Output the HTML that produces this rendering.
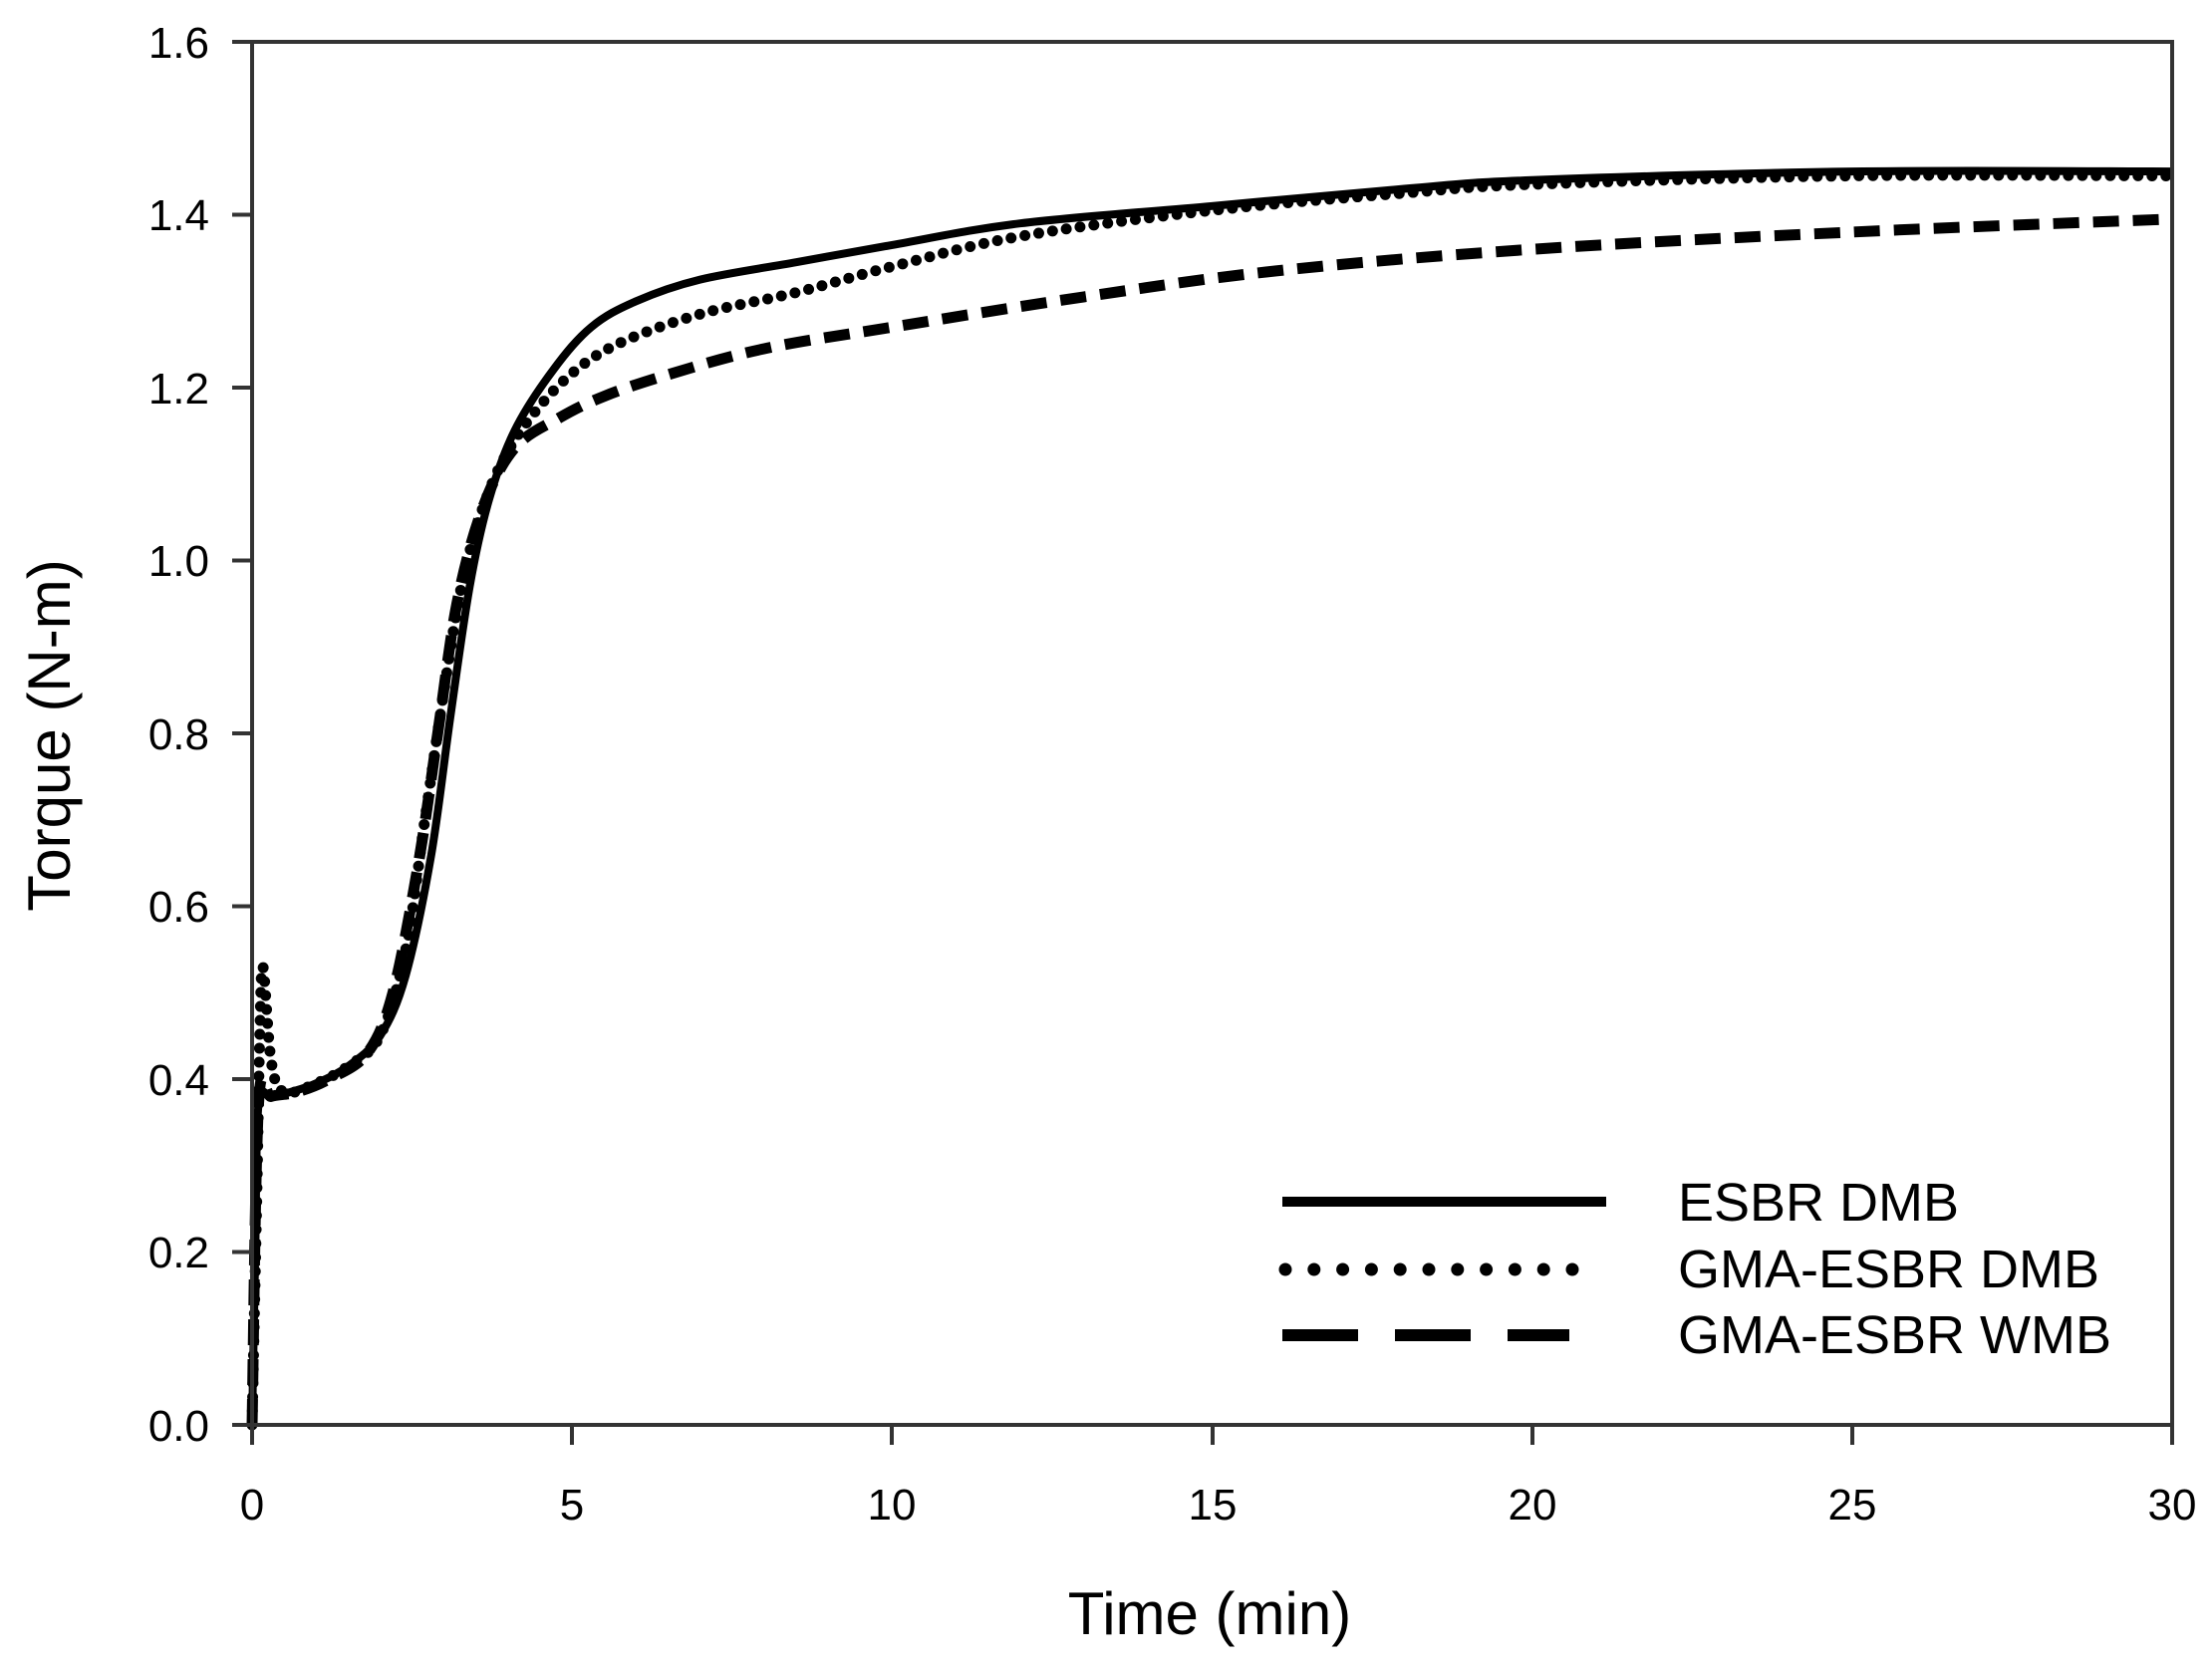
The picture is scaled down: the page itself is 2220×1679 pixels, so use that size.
<!DOCTYPE html>
<html><head><meta charset="utf-8"><style>
html,body{margin:0;padding:0;background:#fff;}
svg{display:block;}
text{font-family:"Liberation Sans",sans-serif;fill:#000;}
</style></head><body>
<svg id="s" width="2220" height="1679" viewBox="0 0 2220 1679" xmlns="http://www.w3.org/2000/svg">
<g id="curves" fill="none" stroke="#000" stroke-linejoin="round"></g>
<g stroke="#333" stroke-width="4" fill="none">
<rect x="253" y="42" width="1927" height="1388"/>
<line x1="233" y1="42" x2="253" y2="42"/><line x1="233" y1="215.5" x2="253" y2="215.5"/>
<line x1="233" y1="389" x2="253" y2="389"/><line x1="233" y1="562.5" x2="253" y2="562.5"/>
<line x1="233" y1="736" x2="253" y2="736"/><line x1="233" y1="909.5" x2="253" y2="909.5"/>
<line x1="233" y1="1083" x2="253" y2="1083"/><line x1="233" y1="1256.5" x2="253" y2="1256.5"/>
<line x1="233" y1="1430" x2="253" y2="1430"/>
<line x1="253" y1="1430" x2="253" y2="1450"/><line x1="574" y1="1430" x2="574" y2="1450"/>
<line x1="895" y1="1430" x2="895" y2="1450"/><line x1="1217" y1="1430" x2="1217" y2="1450"/>
<line x1="1538" y1="1430" x2="1538" y2="1450"/><line x1="1859" y1="1430" x2="1859" y2="1450"/>
<line x1="2180" y1="1430" x2="2180" y2="1450"/>
</g>
<g font-size="44" text-anchor="end">
<text x="210" y="58">1.6</text><text x="210" y="231">1.4</text><text x="210" y="405">1.2</text>
<text x="210" y="578">1.0</text><text x="210" y="752">0.8</text><text x="210" y="925">0.6</text>
<text x="210" y="1099">0.4</text><text x="210" y="1272">0.2</text><text x="210" y="1446">0.0</text>
</g>
<g font-size="44" text-anchor="middle">
<text x="253" y="1525">0</text><text x="574" y="1525">5</text><text x="895" y="1525">10</text>
<text x="1217" y="1525">15</text><text x="1538" y="1525">20</text><text x="1859" y="1525">25</text>
<text x="2180" y="1525">30</text>
</g>
<text x="1214" y="1640" font-size="60" text-anchor="middle">Time (min)</text>
<text transform="translate(70,738) rotate(-90)" font-size="60" text-anchor="middle">Torque (N-m)</text>
<g stroke="#000" fill="none">
<line x1="1287" y1="1206" x2="1612" y2="1206" stroke-width="10"/>
<line x1="1290" y1="1274" x2="1578" y2="1274" stroke-width="13" stroke-linecap="round" stroke-dasharray="0 28.8"/>
<line x1="1287" y1="1340" x2="1575" y2="1340" stroke-width="12" stroke-dasharray="76 37"/>
</g>
<g font-size="54">
<text x="1684" y="1225">ESBR DMB</text>
<text x="1684" y="1292">GMA-ESBR DMB</text>
<text x="1684" y="1358">GMA-ESBR WMB</text>
</g>
</svg>
<script>
function X(t){return 253+t*1927/30;}
function Y(v){return 1430-v*1388/1.6;}
function path(d){
  var p=d.map(function(a){return [X(a[0]),Y(a[1])];});
  var s="M"+p[0][0].toFixed(1)+","+p[0][1].toFixed(1);
  for(var i=0;i<p.length-1;i++){
    var p0=p[i-1]||p[i],p1=p[i],p2=p[i+1],p3=p[i+2]||p2;
    var c1=[p1[0]+(p2[0]-p0[0])/6,p1[1]+(p2[1]-p0[1])/6];
    var c2=[p2[0]-(p3[0]-p1[0])/6,p2[1]-(p3[1]-p1[1])/6];
    s+=" C"+c1[0].toFixed(1)+","+c1[1].toFixed(1)+" "+c2[0].toFixed(1)+","+c2[1].toFixed(1)+" "+p2[0].toFixed(1)+","+p2[1].toFixed(1);
  }
  return s;
}
var solid=[[0,0],[0.05,0.2],[0.1,0.37],[0.3,0.38],[0.6,0.385],[1,0.395],[1.5,0.415],[2,0.45],[2.4,0.52],[2.8,0.66],[3.1,0.82],[3.4,0.97],[3.7,1.07],[4.1,1.15],[4.7,1.22],[5.3,1.27],[6,1.30],[7,1.325],[8.5,1.345],[10,1.365],[12,1.39],[15,1.41],[18,1.43],[20,1.44],[25,1.45],[30,1.45]];
var dot=[[0,0],[0.07,0.25],[0.12,0.45],[0.17,0.53],[0.3,0.42],[0.5,0.385],[1,0.395],[1.5,0.415],[2,0.45],[2.4,0.55],[2.7,0.7],[3,0.85],[3.3,0.98],[3.7,1.08],[4.2,1.15],[4.9,1.21],[5.7,1.25],[7,1.285],[8.5,1.31],[10,1.34],[12,1.375],[15,1.405],[18,1.425],[20,1.435],[25,1.445],[30,1.445]];
var dash=[[0,0],[0.1,0.37],[0.3,0.38],[0.7,0.385],[1.2,0.40],[1.8,0.43],[2.2,0.5],[2.6,0.65],[2.9,0.8],[3.2,0.95],[3.6,1.06],[4.1,1.13],[4.8,1.165],[5.5,1.19],[6.5,1.215],[8,1.245],[10,1.27],[13,1.305],[16,1.335],[20,1.36],[25,1.38],[30,1.395]];
var g=document.getElementById("curves");
function add(d,w,da,cap){
  var e=document.createElementNS("http://www.w3.org/2000/svg","path");
  e.setAttribute("d",path(d));e.setAttribute("stroke-width",w);
  if(da)e.setAttribute("stroke-dasharray",da);
  if(cap)e.setAttribute("stroke-linecap",cap);
  g.appendChild(e);
}
add(dash,11,"26 14");
add(dot,11,"0 14","round");
add(solid,8);
</script>
</body></html>
